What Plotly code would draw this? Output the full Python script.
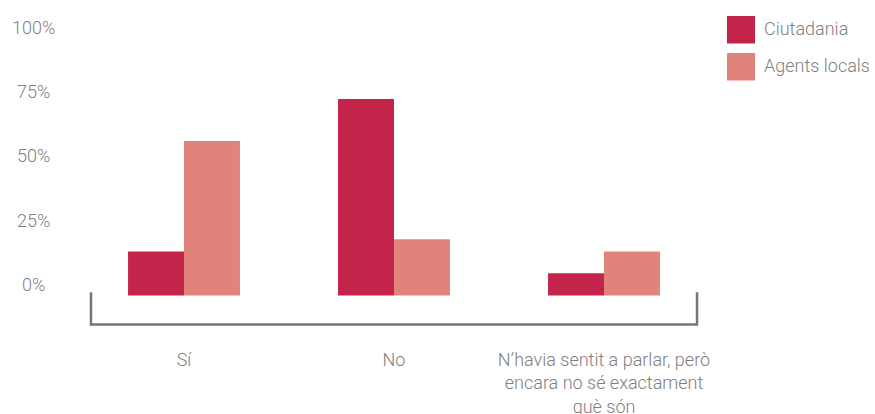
import plotly.graph_objects as go

categories = ["Sí", "No", "N’havia sentit a parlar, però<br>encara no sé exactament<br>què són"]
series_names = ["Ciutadania", "Agents locals"]
ciutadania = [17.1, 76.3, 8.6]
agents_locals = [60.0, 21.8, 17.1]
y_ticks = [0, 25, 50, 75, 100]
y_tick_labels = ["0%", "25%", "50%", "75%", "100%"]
colors = ["#C4244A", "#E0837A"]

W, H = 875, 414
L, R, T, B = 79, 166, 38, 80
PW, PH = W - L - R, H - T - B
FONT = dict(family="Roboto", size=18, color="#808080", weight=300)

def px_x(x):
    return (x - L) / PW

def px_y(y):
    return (H - B - y) / PH

fig = go.Figure()
for name, vals, col in zip(series_names, [ciutadania, agents_locals], colors):
    fig.add_trace(go.Bar(x=categories, y=vals, name=name, marker=dict(color=col, line=dict(width=0)),
                         showlegend=False, hoverinfo="skip"))

# y tick labels (centered)
annotations = []
for v, t in zip(y_ticks, y_tick_labels):
    annotations.append(dict(x=px_x(33.5), xref="paper", y=v, yref="y", text=t, showarrow=False,
                            xanchor="center", yanchor="middle", yshift=11, font=FONT))

# custom legend
shapes = []
for i, (name, col) in enumerate(zip(series_names, colors)):
    top = 16 + i * 37
    shapes.append(dict(type="rect", xref="paper", yref="paper",
                       x0=px_x(727), x1=px_x(755), y0=px_y(top + 27.5), y1=px_y(top),
                       fillcolor=col, line=dict(width=0)))
    annotations.append(dict(x=px_x(762), xref="paper", y=px_y(top + 12), yref="paper", text=name,
                            showarrow=False, xanchor="left", yanchor="middle", font=FONT))

# bracket
bx0, bx1 = -0.443, 2.443
yb, yt = -11.3, 1.2
shapes.append(dict(type="path", xref="x", yref="y",
                   path=f"M {bx0},{yt} L {bx0},{yb} L {bx1},{yb} L {bx1},{yt}",
                   line=dict(color="#75757A", width=2.5)))

fig.update_layout(
    width=W, height=H,
    margin=dict(l=L, r=R, t=T, b=B, pad=0, autoexpand=False),
    barmode="group", bargap=0.467, bargroupgap=0,
    plot_bgcolor="white", paper_bgcolor="white",
    font=FONT,
    xaxis=dict(showgrid=False, showline=False, zeroline=False, ticks="", tickfont=FONT,
               range=[-0.5, 2.5], ticklabelstandoff=13, automargin=False),
    yaxis=dict(range=[-15, 100], showgrid=False, showline=False, zeroline=False,
               showticklabels=False, ticks="", automargin=False),
    annotations=annotations, shapes=shapes,
)
fig.write_html("out.html", config={"displayModeBar": False, "staticPlot": True},
               post_script="document.body.style.margin='0';document.body.style.padding='0';")
